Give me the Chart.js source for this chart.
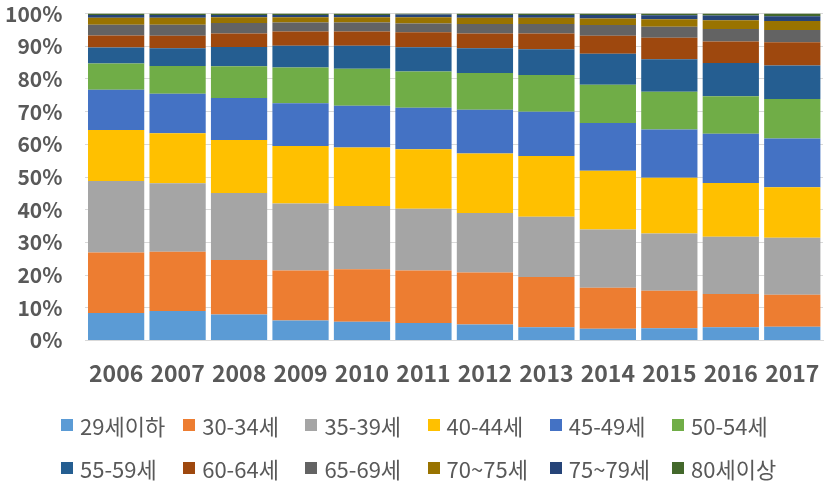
<!DOCTYPE html>
<html>
<head>
<meta charset="utf-8">
<script src="https://cdn.jsdelivr.net/npm/chart.js@4"></script>
<style>
  html, body { margin: 0; padding: 0; background: #fff; overflow: hidden; }
  #wrap { position: relative; width: 827px; height: 482px; }
  #chart { display: block; }
  #legend { position: absolute; left: 0; top: 0; width: 827px; height: 482px; pointer-events: none;
            font-family: 'Noto Sans CJK KR', 'Noto Sans', sans-serif; font-size: 22px; color: #595959; }
  .item { position: absolute; display: flex; align-items: center; white-space: nowrap; line-height: 1; }
  .box { width: 12px; height: 12px; margin-right: 7px; box-sizing: border-box; }
</style>
</head>
<body>
<div id="wrap">
  <canvas id="chart" width="827" height="482"></canvas>
  <div id="legend"></div>
</div>
<script>
'use strict';

const years = ['2006','2007','2008','2009','2010','2011','2012','2013','2014','2015','2016','2017'];
const ageGroups = ['29세이하','30-34세','35-39세','40-44세','45-49세','50-54세','55-59세','60-64세','65-69세','70~75세','75~79세','80세이상'];
const yTicks = ['0%','10%','20%','30%','40%','50%','60%','70%','80%','90%','100%'];

// share (%) per age group, one array per group, in year order
const age29 = [8.4, 9.0, 7.9, 6.1, 5.7, 5.3, 4.9, 4.0, 3.6, 3.7, 4.0, 4.2];
const age30 = [18.5, 18.1, 16.7, 15.3, 16.1, 16.1, 15.9, 15.4, 12.5, 11.5, 10.2, 9.8];
const age35 = [21.9, 21.0, 20.5, 20.5, 19.3, 18.9, 18.2, 18.4, 17.8, 17.5, 17.5, 17.4];
const age40 = [15.6, 15.3, 16.2, 17.6, 17.9, 18.2, 18.2, 18.6, 18.0, 17.1, 16.5, 15.5];
const age45 = [12.3, 12.1, 12.9, 13.1, 12.8, 12.7, 13.4, 13.6, 14.6, 14.7, 15.0, 14.9];
const age50 = [8.0, 8.5, 9.7, 10.9, 11.3, 11.1, 11.2, 11.2, 11.7, 11.6, 11.5, 12.1];
const age55 = [4.9, 5.4, 5.9, 6.7, 7.1, 7.4, 7.6, 7.9, 9.5, 9.9, 10.2, 10.2];
const age60 = [3.7, 3.8, 4.1, 4.3, 4.3, 4.6, 4.5, 4.8, 5.5, 6.6, 6.6, 7.1];
const age65 = [3.3, 3.4, 3.2, 2.8, 2.8, 2.7, 2.9, 2.9, 3.3, 3.4, 3.8, 3.8];
const age70 = [2.1, 2.1, 1.8, 1.6, 1.6, 1.9, 1.9, 1.9, 2.0, 2.3, 2.7, 2.7];
const age75 = [0.9, 0.9, 0.7, 0.7, 0.7, 0.8, 0.9, 0.9, 1.1, 1.2, 1.4, 1.5];
const age80 = [0.4, 0.4, 0.4, 0.4, 0.4, 0.3, 0.4, 0.4, 0.4, 0.5, 0.6, 0.8];

const series = [age29, age30, age35, age40, age45, age50, age55, age60, age65, age70, age75, age80];
const colors = ['#5B9BD5','#ED7D31','#A5A5A5','#FFC000','#4472C4','#70AD47',
                '#255E91','#9E480E','#636363','#997300','#264478','#43682B'];

const FONT = "'Noto Sans CJK KR','Noto Sans',sans-serif";

Chart.defaults.font.family = FONT;
Chart.defaults.color = '#595959';

const chart = new Chart(document.getElementById('chart').getContext('2d'), {
  type: 'bar',
  data: {
    labels: years,
    datasets: series.map((data, i) => ({
      label: ageGroups[i],
      data,
      backgroundColor: colors[i],
      borderWidth: 0,
      barPercentage: 0.915,
      categoryPercentage: 1.0,
    }))
  },
  options: {
    responsive: false,
    animation: false,
    layout: { padding: { left: 4, right: 4, top: 0, bottom: 95 } },
    scales: {
      x: {
        stacked: true,
        // invisible tick marks give the label gap without adding side padding
        grid: { display: false, drawTicks: true, tickLength: 19, tickColor: 'rgba(0,0,0,0)' },
        border: { display: true, color: '#d9d9d9' },
        ticks: { padding: 0, font: { size: 23, weight: 'bold' }, color: '#595959' }
      },
      y: {
        stacked: true,
        min: 0,
        max: 100,
        grid: { color: '#d9d9d9', drawTicks: true, tickLength: 22, tickColor: 'rgba(0,0,0,0)' },
        border: { display: false },
        ticks: {
          stepSize: 10,
          padding: 1,
          font: { size: 21, weight: 'bold' },
          color: '#595959',
          callback: (v, i) => yTicks[i]
        }
      }
    },
    plugins: {
      legend: { display: false },
      tooltip: { enabled: false }
    }
  }
});

// ── HTML legend: two rows of six, fixed columns ──────────────
const legendEl = document.getElementById('legend');
chart.data.datasets.forEach((ds, i) => {
  const row = Math.floor(i / 6), col = i % 6;
  const item = document.createElement('div');
  item.className = 'item';
  item.style.left = (61 + col * 122.2) + 'px';
  item.style.top = (row === 0 ? 414 : 457) + 'px';
  const box = document.createElement('span');
  box.className = 'box';
  box.style.background = ds.backgroundColor;
  const txt = document.createElement('span');
  txt.textContent = ds.label;
  item.appendChild(box);
  item.appendChild(txt);
  legendEl.appendChild(item);
});
</script>
</body>
</html>
